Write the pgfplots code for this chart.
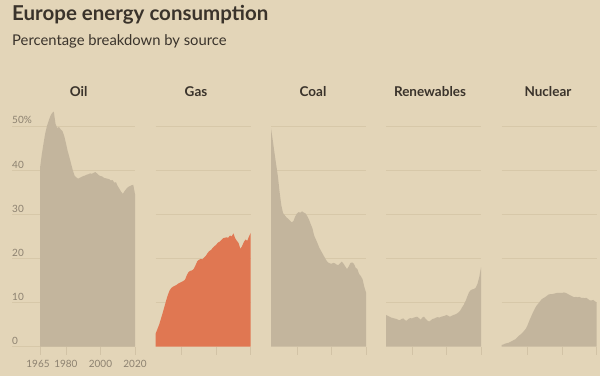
\documentclass[border=0pt]{standalone}
\usepackage{fontspec}
\setmainfont{Lato}
\usepackage{pgfplots}
\pgfplotsset{compat=1.18}
\definecolor{bg}{HTML}{E3D5B8}
\definecolor{areac}{HTML}{C3B59D}
\definecolor{gasc}{HTML}{E07752}
\definecolor{gridc}{HTML}{D7C8A9}
\definecolor{tickc}{HTML}{D2C3A6}
\definecolor{labc}{HTML}{8C8170}
\definecolor{titc}{HTML}{3A332B}
\pgfplotsset{
  panel/.style={
    scale only axis, width=95pt, height=242.55pt,
    xmin=1965, xmax=2020, ymin=0, ymax=55,
    clip=false,
    axis x line*=bottom, hide y axis,
    x axis line style={draw=none},
    xtick={1980,2000,2020}, xticklabels={},
    tick style={draw=tickc, line width=0.7pt},
    major tick length=8pt, tick align=outside,
    xticklabel style={font=\fontsize{10}{12}\selectfont, text=labc, yshift=-2.5pt},
    anchor=south west,
  },
}
\tikzset{ylab/.style={anchor=south west, inner sep=0, text=labc, font=\fontsize{10}{12}\selectfont}}
\newcommand{\grids}{%
  \pgfplotsinvokeforeach{10,20,30,40,50}{%
    \draw[gridc, line width=0.7pt] (axis cs:1965,##1) -- (axis cs:2020,##1);}%
}
\begin{document}
\begin{tikzpicture}
\useasboundingbox (0pt,0pt) rectangle (600pt,376pt);
\fill[bg] (0pt,0pt) rectangle (600pt,376pt);
\node[anchor=base west, inner sep=0, text=titc, font=\fontsize{20.5}{24}\selectfont\bfseries] at (12pt,355.3pt) {Europe energy consumption};
\node[anchor=base west, inner sep=0, text=titc, font=\fontsize{14.8}{17}\selectfont] at (12pt,331pt) {Percentage breakdown by source};
\foreach \t/\x in {Oil/78.6, Gas/196, Coal/313, Renewables/430, Nuclear/548}
  \node[text=titc, font=\fontsize{13.5}{15}\selectfont\bfseries] at (\x pt,284.3pt) {\t};

% Oil
\begin{axis}[panel, at={(40pt,29.3pt)}, xtick={1965,1980,2000,2020}, xticklabels={\kern-4pt 1965,1980,2000,2020}]
\pgfplotsinvokeforeach{0,10,20,30,40,50}{%
  \draw[gridc, line width=0.7pt] ([xshift=-28pt]axis cs:1965,#1) -- (axis cs:2020,#1);}
\node[ylab] at ([xshift=-28pt, yshift=2pt]axis cs:1965,0) {0};
\node[ylab] at ([xshift=-28pt, yshift=2pt]axis cs:1965,10) {10};
\node[ylab] at ([xshift=-28pt, yshift=2pt]axis cs:1965,20) {20};
\node[ylab] at ([xshift=-28pt, yshift=2pt]axis cs:1965,30) {30};
\node[ylab] at ([xshift=-28pt, yshift=2pt]axis cs:1965,40) {40};
\node[ylab] at ([xshift=-28pt, yshift=2pt]axis cs:1965,50) {50\%};
\addplot[fill=areac, draw=none] table {
1965 40.5
1966 43.5
1967 46.0
1968 48.3
1969 50.0
1970 51.2
1971 52.3
1972 53.0
1973 53.3
1974 50.5
1975 49.6
1976 49.8
1977 49.3
1978 48.9
1979 47.8
1980 46.2
1981 44.4
1982 43.0
1983 41.5
1984 40.0
1985 38.8
1986 38.4
1987 38.1
1988 38.3
1989 38.5
1990 38.7
1991 38.8
1992 39.0
1993 39.1
1994 39.3
1995 39.2
1996 39.4
1997 39.6
1998 39.3
1999 38.9
2000 38.7
2001 38.6
2002 38.3
2003 38.2
2004 38.1
2005 38.0
2006 37.7
2007 37.8
2008 37.2
2009 37.3
2010 36.4
2011 35.8
2012 35.1
2013 34.7
2014 35.3
2015 35.8
2016 36.2
2017 36.4
2018 36.6
2019 36.7
2020 34.6
} \closedcycle;
\end{axis}

% Gas
\begin{axis}[panel, at={(155.7pt,29.3pt)}]
\grids
\addplot[fill=gasc, draw=none] table {
1965 3.0
1966 4.0
1967 5.0
1968 6.3
1969 7.6
1970 9.0
1971 10.4
1972 11.7
1973 12.7
1974 13.3
1975 13.6
1976 13.8
1977 14.0
1978 14.3
1979 14.5
1980 14.7
1981 14.9
1982 15.2
1983 16.2
1984 16.9
1985 17.2
1986 17.3
1987 17.6
1988 18.4
1989 19.3
1990 19.7
1991 19.9
1992 19.8
1993 20.2
1994 20.6
1995 21.2
1996 21.7
1997 21.9
1998 22.4
1999 22.8
2000 23.1
2001 23.6
2002 23.8
2003 24.2
2004 24.6
2005 24.7
2006 24.8
2007 24.7
2008 25.2
2009 25.0
2010 25.7
2011 24.6
2012 24.0
2013 23.5
2014 22.2
2015 22.8
2016 23.7
2017 24.3
2018 24.0
2019 25.0
2020 25.8
} \closedcycle;
\end{axis}

% Coal
\begin{axis}[panel, at={(271pt,29.3pt)}]
\grids
\addplot[fill=areac, draw=none] table {
1965 49.5
1966 46.9
1967 44.0
1968 41.3
1969 38.6
1970 35.0
1971 32.0
1972 30.3
1973 29.8
1974 29.3
1975 29.0
1976 28.6
1977 28.2
1978 28.5
1979 29.5
1980 30.2
1981 30.5
1982 30.4
1983 30.7
1984 30.4
1985 30.2
1986 29.6
1987 28.8
1988 27.8
1989 26.8
1990 25.2
1991 24.3
1992 23.4
1993 22.4
1994 21.7
1995 21.0
1996 20.3
1997 19.6
1998 19.1
1999 18.9
2000 18.8
2001 19.0
2002 18.9
2003 18.6
2004 18.5
2005 18.9
2006 19.3
2007 18.8
2008 18.2
2009 17.6
2010 18.2
2011 19.0
2012 19.1
2013 18.8
2014 17.9
2015 17.6
2016 16.5
2017 16.0
2018 15.3
2019 13.6
2020 12.3
} \closedcycle;
\end{axis}

% Renewables
\begin{axis}[panel, at={(386pt,29.3pt)}]
\grids
\addplot[fill=areac, draw=none] table {
1965 7.2
1966 7.0
1967 6.8
1968 6.6
1969 6.5
1970 6.4
1971 6.3
1972 6.1
1973 6.0
1974 6.3
1975 6.4
1976 6.0
1977 5.9
1978 6.3
1979 6.5
1980 6.4
1981 6.6
1982 6.7
1983 6.8
1984 6.5
1985 6.1
1986 6.6
1987 6.8
1988 6.3
1989 5.9
1990 5.7
1991 6.0
1992 6.3
1993 6.4
1994 6.6
1995 6.7
1996 6.6
1997 6.8
1998 6.9
1999 7.0
2000 7.2
2001 7.0
2002 6.8
2003 7.0
2004 7.2
2005 7.3
2006 7.5
2007 7.8
2008 8.2
2009 8.9
2010 9.5
2011 10.3
2012 11.3
2013 12.3
2014 12.8
2015 13.0
2016 13.1
2017 13.4
2018 14.3
2019 15.8
2020 18.0
} \closedcycle;
\end{axis}

% Nuclear
\begin{axis}[panel, at={(501.7pt,29.3pt)}]
\grids
\addplot[fill=areac, draw=none] table {
1965 0.4
1966 0.5
1967 0.7
1968 0.8
1969 0.9
1970 1.1
1971 1.3
1972 1.5
1973 1.7
1974 2.1
1975 2.5
1976 2.8
1977 3.2
1978 3.6
1979 4.1
1980 4.9
1981 5.9
1982 6.8
1983 7.7
1984 8.5
1985 9.2
1986 9.7
1987 10.2
1988 10.7
1989 11.0
1990 11.2
1991 11.5
1992 11.8
1993 11.9
1994 11.9
1995 12.0
1996 12.1
1997 12.2
1998 12.2
1999 12.2
2000 12.2
2001 12.3
2002 12.2
2003 12.0
2004 11.8
2005 11.6
2006 11.4
2007 11.2
2008 11.3
2009 11.2
2010 11.3
2011 11.1
2012 11.1
2013 11.0
2014 11.1
2015 10.8
2016 10.5
2017 10.5
2018 10.6
2019 10.3
2020 10.0
} \closedcycle;
\end{axis}
\end{tikzpicture}
\end{document}
